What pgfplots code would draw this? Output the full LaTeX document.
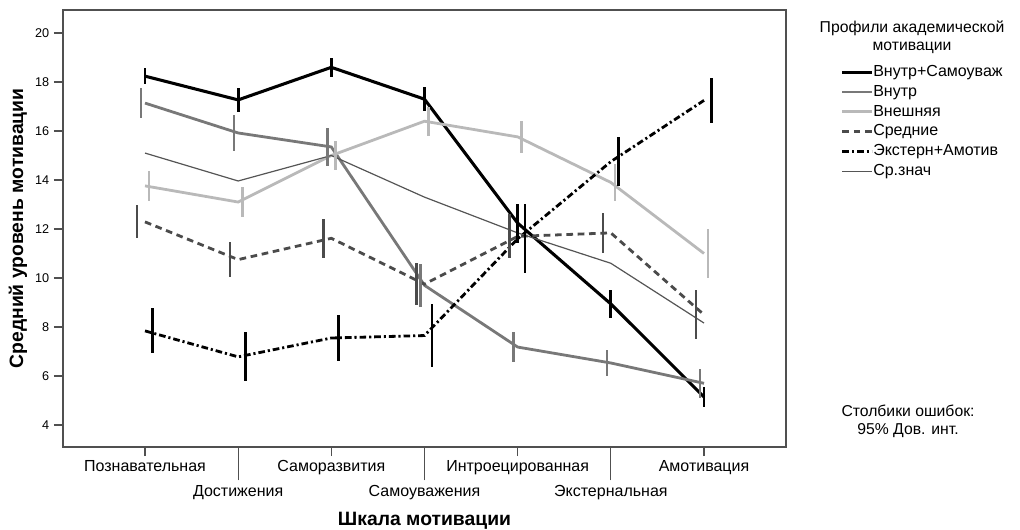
\documentclass[border=0pt]{standalone}
\usepackage{fontspec}
\setmainfont{Liberation Sans}
\usepackage{pgfplots}
\usepackage{pgfplotstable}
\pgfplotsset{compat=1.18}
\definecolor{cB}{RGB}{120,120,120}
\definecolor{cC}{RGB}{185,185,185}
\definecolor{cD}{RGB}{75,75,75}
\definecolor{cF}{RGB}{85,85,85}
\definecolor{frame}{RGB}{80,80,80}
% x y e
\pgfplotstableread{
x y e
1 18.24 0.33
2 17.27 0.50
3 18.60 0.40
4 17.30 0.50
5 12.24 0.80
6 8.94 0.57
7 5.14 0.39
}\tabA
\pgfplotstableread{
x y e
1 17.14 0.60
2 15.92 0.75
3 15.35 0.78
4 9.70 0.88
5 7.18 0.63
6 6.53 0.55
7 5.70 0.60
}\tabB
\pgfplotstableread{
x y e
1 13.76 0.60
2 13.10 0.60
3 15.00 0.60
4 16.40 0.60
5 15.76 0.65
6 13.90 0.75
7 11.00 1.00
}\tabC
\pgfplotstableread{
x y e
1 12.29 0.67
2 10.75 0.73
3 11.62 0.80
4 9.75 0.85
5 11.70 0.90
6 11.84 0.80
7 8.50 1.00
}\tabD
\pgfplotstableread{
x y e
1 7.84 0.92
2 6.78 1.00
3 7.55 0.95
4 7.65 1.27
5 11.60 1.40
6 14.75 1.00
7 17.25 0.92
}\tabE
\pgfplotstableread{
x y
1 15.10
2 13.96
3 15.00
4 13.30
5 11.84
6 10.60
7 8.16
}\tabF
\begin{document}
\begin{tikzpicture}[x=1pt,y=1pt]
\useasboundingbox (0,0) rectangle (765,396.75);
\begin{axis}[
  at={(47.25pt,61.5pt)}, anchor=south west,
  scale only axis, width=542.25pt, height=327.75pt,
  xmin=0.12, xmax=7.88, ymin=3.1, ymax=20.94,
  axis line style={draw=frame, line width=0.9pt},
  tick align=outside,
  xtick={1,3,5,7},
  xticklabels={Познавательная,Саморазвития,Интроецированная,Амотивация},
  extra x ticks={2,4,6},
  extra x tick labels={Достижения,Самоуважения,Экстернальная},
  extra x tick style={major tick length=25pt, tick style={draw=frame, line width=0.9pt}},
  x tick style={draw=frame, line width=0.9pt},
  y tick style={draw=frame, line width=0.9pt},
  major tick length=6.75pt,
  xtick pos=bottom, ytick pos=left,
  ytick={4,6,...,20},
  yticklabel style={font=\fontsize{9.5}{10}\selectfont},
  xticklabel style={font=\fontsize{12}{13}\selectfont},
  /pgf/number format/assume math mode=true,
  xlabel={\textbf{Шкала мотивации}},
  ylabel={\textbf{Средний уровень мотивации}},
  xlabel style={at={(axis description cs:0.5,-0.1693)}, anchor=center, font=\fontsize{14.5}{16}\selectfont},
  ylabel style={at={(axis description cs:-0.0622,0.5)}, anchor=center, font=\fontsize{14.5}{16}\selectfont},
  clip=false,
  legend cell align=left,
  legend style={at={(1.07,0.881)}, anchor=north west, draw=none, fill=none,
    font=\fontsize{12}{13}\selectfont,
    nodes={inner sep=0pt, text height=8.5pt, text depth=2.2pt},
    row sep=4.2pt, /tikz/every even column/.append style={column sep=4.5pt}},
  legend image code/.code={\draw[#1] (0pt,0pt) -- (22pt,0pt);},
]
\addplot[black, line width=2.3pt] table[x=x,y=y] {\tabA};
\addlegendentry{Внутр+Самоуваж}
\addplot[cB, line width=2.1pt] table[x=x,y=y] {\tabB};
\addlegendentry{Внутр}
\addplot[cC, line width=2.1pt] table[x=x,y=y] {\tabC};
\addlegendentry{Внешняя}
\addplot[cD, line width=2.1pt, dash pattern=on 5pt off 3.5pt] table[x=x,y=y] {\tabD};
\addlegendentry{Средние}
\addplot[black, line width=2.1pt, dash pattern=on 5pt off 2.2pt on 1.6pt off 2.2pt] table[x=x,y=y] {\tabE};
\addlegendentry{Экстерн+Амотив}
\addplot[cF, line width=0.9pt] table[x=x,y=y] {\tabF};
\addlegendentry{Ср.знач}
% error bars
\addplot[draw=none, forget plot, error bars/.cd, y dir=both, y explicit, error mark=none,
  error bar style={draw=black, solid, line width=2.2pt}]
  table[x=x, y=y, y error=e] {\tabA};
\addplot[draw=none, forget plot, error bars/.cd, y dir=both, y explicit, error mark=none,
  error bar style={draw=cB, solid, line width=2pt}]
  table[x expr=\thisrow{x}-0.043, y=y, y error=e] {\tabB};
\addplot[draw=none, forget plot, error bars/.cd, y dir=both, y explicit, error mark=none,
  error bar style={draw=cC, solid, line width=2pt}]
  table[x expr=\thisrow{x}+0.043, y=y, y error=e] {\tabC};
\addplot[draw=none, forget plot, error bars/.cd, y dir=both, y explicit, error mark=none,
  error bar style={draw=cD, solid, line width=2pt}]
  table[x expr=\thisrow{x}-0.086, y=y, y error=e] {\tabD};
\addplot[draw=none, forget plot, error bars/.cd, y dir=both, y explicit, error mark=none,
  error bar style={draw=black, solid, line width=2pt}]
  table[x expr=\thisrow{x}+0.08, y=y, y error=e] {\tabE};
\end{axis}
\node[align=center, font=\fontsize{11.8}{13.5}\selectfont] at (684,369) {Профили академической\\мотивации};
\node[align=center, font=\fontsize{11.8}{13.5}\selectfont] at (681,81) {Столбики ошибок:\\95\% Дов. инт.};
\end{tikzpicture}
\end{document}
